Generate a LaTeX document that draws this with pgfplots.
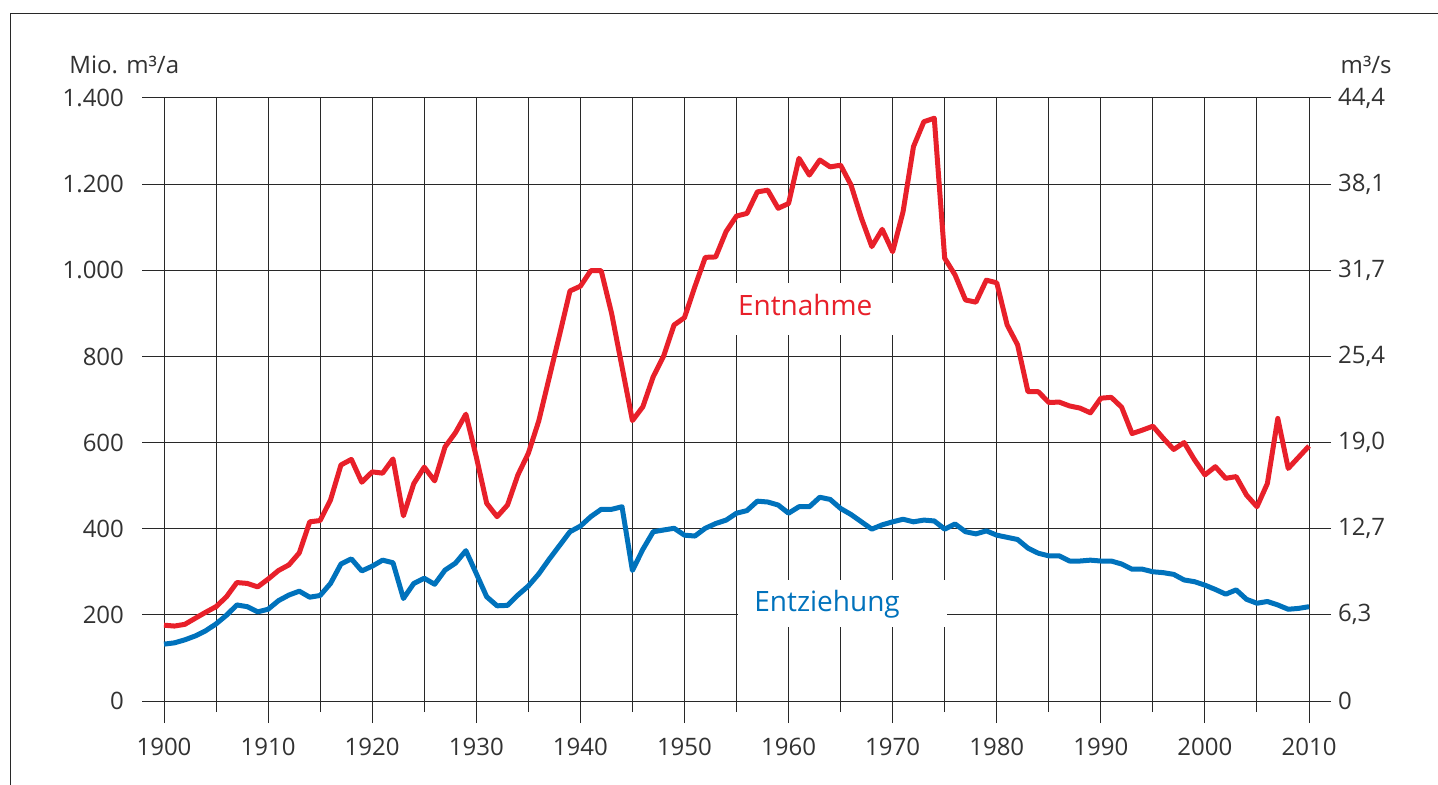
\documentclass[border=0pt]{standalone}
\usepackage{fontspec}
\setmainfont{Open Sans}
\usepackage{pgfplots}
\usepackage{pgfplotstable}
\pgfplotsset{compat=1.18}
\definecolor{cred}{RGB}{232,32,42}
\definecolor{cblue}{RGB}{0,114,188}
\definecolor{cgrid}{RGB}{40,40,40}
\definecolor{ctext}{RGB}{50,50,50}

\pgfplotstableread{
year val
1900 176
1901 174
1902 178
1903 192
1904 206
1905 219
1906 242
1907 275
1908 273
1909 265
1910 283
1911 303
1912 316
1913 344
1914 416
1915 419
1916 467
1917 548
1918 561
1919 508
1920 532
1921 529
1922 562
1923 430
1924 505
1925 543
1926 511
1927 590
1928 623
1929 666
1930 567
1931 459
1932 428
1933 455
1934 525
1935 575
1936 650
1937 750
1938 850
1939 952
1940 963
1941 999
1942 999
1943 900
1944 776
1945 651
1946 683
1947 753
1948 801
1949 873
1950 890
1951 962
1952 1030
1953 1031
1954 1090
1955 1126
1956 1132
1957 1182
1958 1186
1959 1144
1960 1155
1961 1260
1962 1221
1963 1256
1964 1240
1965 1244
1966 1198
1967 1121
1968 1055
1969 1095
1970 1043
1971 1136
1972 1287
1973 1345
1974 1353
1975 1028
1976 989
1977 931
1978 926
1979 977
1980 971
1981 873
1982 827
1983 718
1984 718
1985 693
1986 694
1987 685
1988 680
1989 669
1990 703
1991 705
1992 682
1993 621
1994 629
1995 638
1996 610
1997 584
1998 600
1999 560
2000 525
2001 544
2002 517
2003 521
2004 478
2005 451
2006 505
2007 656
2008 540
2009 566
2010 592
}\entnahme

\pgfplotstableread{
year val
1900 132
1901 135
1902 142
1903 151
1904 163
1905 179
1906 199
1907 223
1908 219
1909 207
1910 213
1911 233
1912 246
1913 255
1914 241
1915 245
1916 273
1917 318
1918 330
1919 302
1920 313
1921 327
1922 321
1923 238
1924 273
1925 285
1926 271
1927 304
1928 320
1929 349
1930 296
1931 242
1932 221
1933 222
1934 246
1935 267
1936 295
1937 329
1938 361
1939 393
1940 406
1941 428
1942 445
1943 445
1944 451
1945 303
1946 352
1947 393
1948 397
1949 401
1950 385
1951 383
1952 401
1953 412
1954 420
1955 436
1956 442
1957 464
1958 462
1959 455
1960 436
1961 451
1962 451
1963 473
1964 468
1965 447
1966 433
1967 416
1968 399
1969 409
1970 416
1971 422
1972 416
1973 420
1974 418
1975 399
1976 411
1977 393
1978 388
1979 395
1980 385
1981 380
1982 375
1983 355
1984 343
1985 337
1986 337
1987 325
1988 325
1989 327
1990 325
1991 325
1992 318
1993 306
1994 306
1995 300
1996 298
1997 294
1998 281
1999 277
2000 269
2001 259
2002 248
2003 258
2004 236
2005 227
2006 231
2007 223
2008 213
2009 215
2010 219
}\entziehung

\begin{document}
\begin{tikzpicture}
\begin{axis}[
  scale only axis, width=572.5pt, height=301.5pt,
  xmin=1900, xmax=2010, ymin=0, ymax=1400,
  axis line style={draw=none},
  xtick={1900,1910,...,2010},
  minor xtick={1905,1915,...,2005},
  ytick={0,200,...,1400},
  grid=both,
  major grid style={cgrid, line width=0.5pt},
  minor grid style={cgrid, line width=0.5pt},
  tick align=outside,
  major tick length=11pt, minor tick length=5.5pt,
  xtick pos=left, ytick pos=both, yticklabel pos=left,
  tick style={cgrid, line width=0.5pt},
  /pgf/number format/assume math mode=true,
  x tick label style={/pgf/number format/1000 sep={}, yshift=-4pt},
  y tick label style={/pgf/number format/1000 sep={.}, xshift=-5.5pt},
  tick label style={font=\fontsize{12}{14}\selectfont, text=ctext},
  clip=false,
]
\addplot[cred, line width=2.5pt, line join=round] table[x=year, y=val] {\entnahme};
\addplot[cblue, line width=2.5pt, line join=round] table[x=year, y=val] {\entziehung};

\fill[white] (axis cs:1952.5,849.7) rectangle (axis cs:1972.5,970.5);
\node[anchor=base, text=cred, font=\fontsize{14}{16}\selectfont, inner sep=0pt] at (axis cs:1961.6,896) {Entnahme};
\fill[white] (axis cs:1955.1,172) rectangle (axis cs:1975.2,281);
\node[anchor=base, text=cblue, font=\fontsize{14}{16}\selectfont, inner sep=0pt] at (axis cs:1963.7,207) {Entziehung};

\node[anchor=base west, text=ctext, font=\fontsize{12}{14}\selectfont, inner sep=0pt] at (rel axis cs:-0.083,1.0398) {Mio. m³/a};
\node[anchor=base east, text=ctext, font=\fontsize{12}{14}\selectfont, inner sep=0pt] at (rel axis cs:1.0725,1.0398) {m³/s};

\draw[cgrid, line width=0.6pt] (rel axis cs:-0.1339,-0.3) -- (rel axis cs:-0.1339,1.1405) -- (rel axis cs:1.3,1.1405);

\coordinate (BL) at (rel axis cs:-0.14323,-0.13930);
\coordinate (TR) at (rel axis cs:1.11266,1.16252);
\end{axis}
\begin{axis}[
  scale only axis, width=572.5pt, height=301.5pt,
  xmin=1900, xmax=2010, ymin=0, ymax=1400,
  hide x axis,
  axis line style={draw=none},
  axis y line*=right,
  ytick={0,200,...,1400},
  yticklabels={0,{6,3},{12,7},{19,0},{25,4},{31,7},{38,1},{44,4}},
  major tick length=0pt,
  y tick label style={xshift=11pt},
  tick label style={font=\fontsize{12}{14}\selectfont, text=ctext},
]
\end{axis}
\pgfresetboundingbox
\useasboundingbox (BL) rectangle (TR);
\end{tikzpicture}
\end{document}
